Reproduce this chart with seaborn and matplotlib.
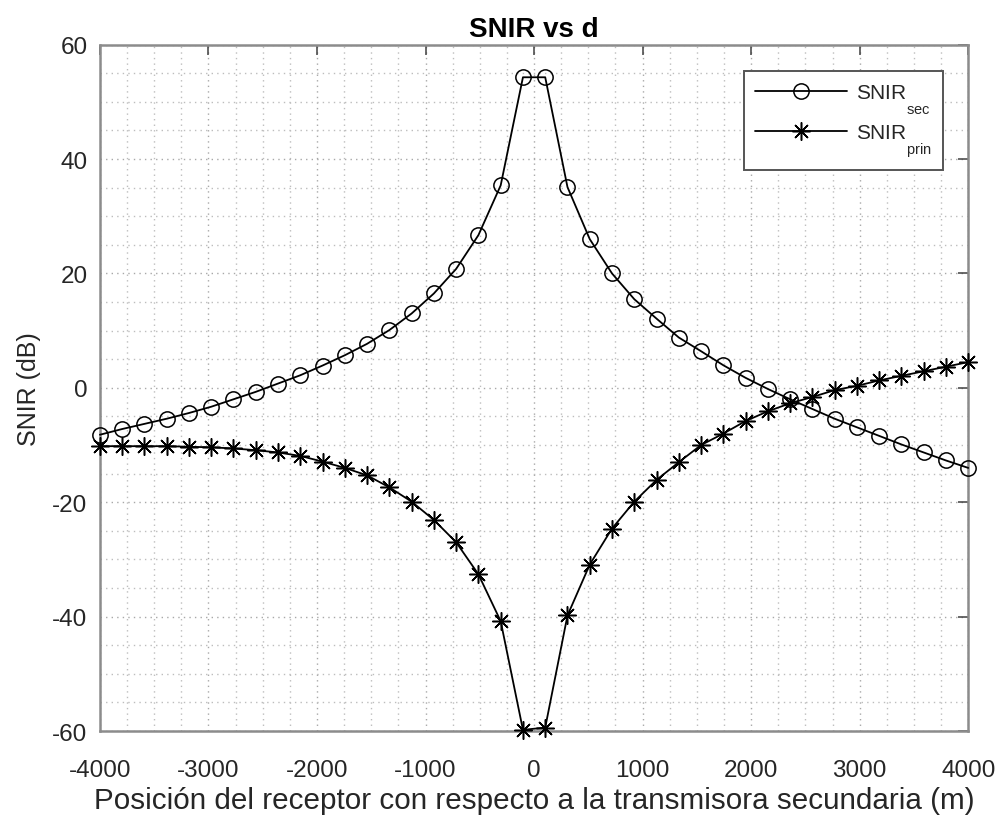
import numpy as np
import pandas as pd
import matplotlib
matplotlib.use("Agg")
import matplotlib.pyplot as plt
import seaborn as sns
from matplotlib.ticker import MultipleLocator

# Lower the subscripts a bit so the legend labels read like SNIR with a dropped index
try:
    import matplotlib._mathtext as _mt
    _mt.FontConstantsBase.sub1 = 1.25
except Exception:
    pass

# Receiver positions (m), 40 evenly spaced samples
d = np.linspace(-4000, 4000, 40)

# Secondary-link SNIR (dB)
snir_sec = [-8.2, -7.2, -6.3, -5.4, -4.4, -3.3, -2.0, -0.7, 0.75, 2.2,
            3.9, 5.7, 7.7, 10.1, 13.0, 16.5, 20.8, 26.7, 35.4, 54.3,
            54.3, 35.1, 26.0, 20.0, 15.5, 12.1, 8.8, 6.4, 3.95, 1.75,
            -0.2, -2.0, -3.7, -5.4, -6.9, -8.4, -9.9, -11.3, -12.7, -14.0]

# Primary-link SNIR (dB)
snir_prin = [-10.2, -10.2, -10.2, -10.2, -10.3, -10.4, -10.6, -10.9, -11.3, -11.9,
             -12.9, -14.0, -15.3, -17.4, -19.9, -23.1, -27.0, -32.6, -40.8, -59.8,
             -59.4, -39.8, -30.9, -24.6, -19.9, -16.1, -13.0, -10.0, -8.0, -5.8,
             -4.1, -2.7, -1.6, -0.4, 0.35, 1.3, 2.1, 2.9, 3.7, 4.5]

labels = [r"SNIR$_{\mathrm{sec}}$", r"SNIR$_{\mathrm{prin}}$"]
xticks = [-4000, -3000, -2000, -1000, 0, 1000, 2000, 3000, 4000]
yticks = [-60, -40, -20, 0, 20, 40, 60]

df = pd.DataFrame({"d": d, "sec": snir_sec, "prin": snir_prin})

sns.set_style("white")
plt.rcParams["font.family"] = ["Liberation Sans", "DejaVu Sans"]
plt.rcParams["mathtext.fontset"] = "custom"
plt.rcParams["mathtext.rm"] = "Liberation Sans"
plt.rcParams["axes.unicode_minus"] = False

txt = "#262626"
spine = "#8c8c8c"

fig = plt.figure(figsize=(10.01, 8.20), dpi=100)
ax = fig.add_axes([0.0998, 0.1073, 0.8675, 0.8370])

sns.lineplot(data=df, x="d", y="sec", ax=ax, color="black", linewidth=1.3,
             marker="o", markersize=11, markerfacecolor="none",
             markeredgecolor="black", markeredgewidth=1.1, label=labels[0],
             sort=False, estimator=None, clip_on=False, zorder=3)
sns.lineplot(data=df, x="d", y="prin", ax=ax, color="black", linewidth=1.3,
             marker=(8, 2, 0), markersize=13, markeredgecolor="black",
             markeredgewidth=1.1, label=labels[1],
             sort=False, estimator=None, clip_on=False, zorder=3)

ax.set_xlim(-4000, 4000)
ax.set_ylim(-60, 60)
ax.set_xticks(xticks)
ax.set_yticks(yticks)
ax.xaxis.set_minor_locator(MultipleLocator(250))
ax.yaxis.set_minor_locator(MultipleLocator(5))

ax.grid(which="major", color="#a8a8a8", linestyle=(0, (1, 3)), linewidth=1.0)
ax.grid(which="minor", color="#bdbdbd", linestyle=(0, (1, 3)), linewidth=1.0)
ax.set_axisbelow(True)

for s in ax.spines.values():
    s.set_color(spine)
    s.set_linewidth(1.8)
    s.set_visible(True)

ax.tick_params(which="major", direction="in", length=7, width=1.1, color="#404040",
               top=True, right=True, labelsize=17.5, labelcolor=txt)
ax.tick_params(axis="x", which="major", pad=20)
ax.tick_params(axis="y", which="major", pad=9)
ax.tick_params(which="minor", length=0, top=True, right=True)

ax.set_title("SNIR vs d", fontsize=20, fontweight="bold", color="black", pad=6)
ax.set_xlabel("Posición del receptor con respecto a la transmisora secundaria (m)",
              fontsize=21.3, color=txt, labelpad=4)
ax.set_ylabel("SNIR (dB)", fontsize=18, color=txt, labelpad=8)

leg = ax.legend(loc="upper right", bbox_to_anchor=(0.9712, 0.962), fontsize=15,
                handlelength=4.4, handletextpad=0.45, borderpad=0.55,
                labelspacing=0.35, borderaxespad=0.0, frameon=True,
                fancybox=False, framealpha=1)
leg.get_frame().set_edgecolor("#555555")
leg.get_frame().set_linewidth(1.4)
for t in leg.get_texts():
    t.set_color(txt)

fig.savefig("out.png", dpi=100)
